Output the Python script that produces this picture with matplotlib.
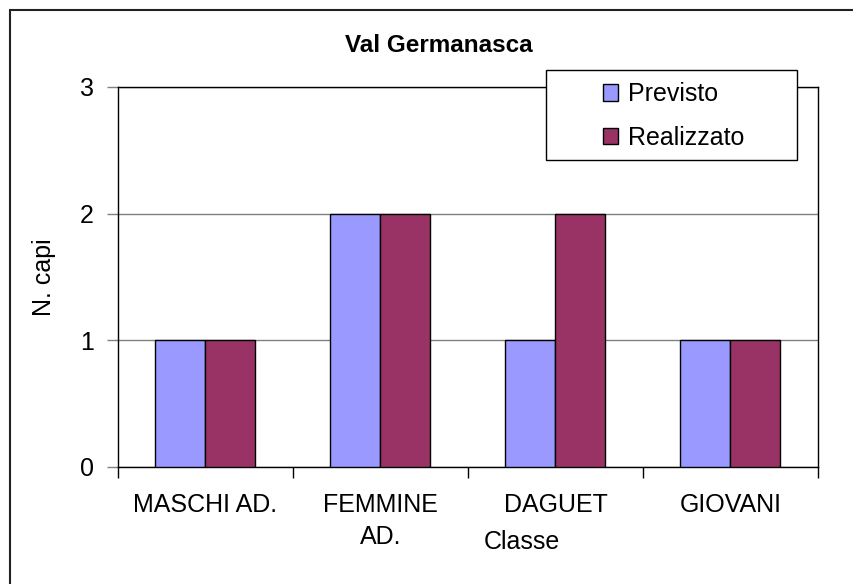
import matplotlib
matplotlib.use("Agg")
import matplotlib.pyplot as plt
from matplotlib.patches import Rectangle, Patch
import numpy as np

plt.rcParams['font.family'] = ['Liberation Sans', 'DejaVu Sans']

categories = ["MASCHI AD.", "FEMMINE\nAD.", "DAGUET", "GIOVANI"]
previsto = [1, 2, 1, 1]
realizzato = [1, 2, 2, 1]
yticks = [0, 1, 2, 3]
title = "Val Germanasca"
series_names = ["Previsto", "Realizzato"]
colors = ["#9999FF", "#993366"]

W, H = 854, 584
fig = plt.figure(figsize=(W / 100, H / 100), dpi=100)
fig.patch.set_facecolor("white")

def fx(px):
    return px / W

def fy(py):
    return 1 - py / H

FS = 18

ax = fig.add_axes([fx(118), fy(467), fx(818) - fx(118), fy(87) - fy(467)])

x = np.arange(len(categories))
bw = 50 / 175
ax.bar(x - bw / 2, previsto, width=bw, color=colors[0], edgecolor="black", linewidth=1.0, zorder=3)
ax.bar(x + bw / 2, realizzato, width=bw, color=colors[1], edgecolor="black", linewidth=1.0, zorder=3)

ax.set_xlim(-0.5, len(categories) - 0.5)
ax.set_ylim(0, 3)
ax.set_yticks(yticks)
ax.set_yticklabels([str(v) for v in yticks], fontsize=FS)
ax.yaxis.grid(True, color="#808080", linewidth=1.0, zorder=0)
ax.tick_params(axis="y", length=8, width=1, color="#808080", pad=9.5, direction="out")

ax.set_xticks(np.arange(-0.5, len(categories), 1.0))
ax.set_xticklabels([])
ax.tick_params(axis="x", which="major", length=8, width=1, color="black", direction="out")
ax.set_xticks(x, minor=True)
ax.set_xticklabels(categories, minor=True, fontsize=FS, linespacing=1.4, va="top")
ax.tick_params(axis="x", which="minor", length=0, pad=19)

for s in ["left", "bottom", "top", "right"]:
    ax.spines[s].set_color("black")
    ax.spines[s].set_linewidth(1.0)

ax.set_ylabel("N. capi", fontsize=FS)
ax.yaxis.set_label_coords((56 - 118) / 700, 0.5)
ax.set_xlabel("Classe", fontsize=FS)
ax.xaxis.set_label_coords((522 - 118) / 700, (467 - 542) / 380)
ax.xaxis.label.set_va("center")

fig.text(fx(439), fy(45), title, fontsize=17.5, fontweight="bold", ha="center", va="center")

# outer chart border
fig.add_artist(Rectangle((fx(10), fy(600)), fx(900) - fx(10), fy(10) - fy(600),
                         transform=fig.transFigure, fill=False, edgecolor="#222222",
                         linewidth=1.5, zorder=1))

# legend box
fig.add_artist(Rectangle((fx(546), fy(160)), fx(797) - fx(546), fy(70) - fy(160),
                         transform=fig.transFigure, facecolor="white", edgecolor="black",
                         linewidth=1.0, zorder=5))
handles = [Patch(facecolor=c, edgecolor="black", linewidth=1.0) for c in colors]
leg = fig.legend(handles, series_names, loc="center left", bbox_to_anchor=(fx(603), fy(116)),
                 frameon=False, fontsize=FS, handlelength=0.62, handleheight=0.62,
                 handletextpad=0.4, labelspacing=0.78, borderpad=0, borderaxespad=0)
leg.set_zorder(6)

fig.savefig("out.png", dpi=100, facecolor="white")
